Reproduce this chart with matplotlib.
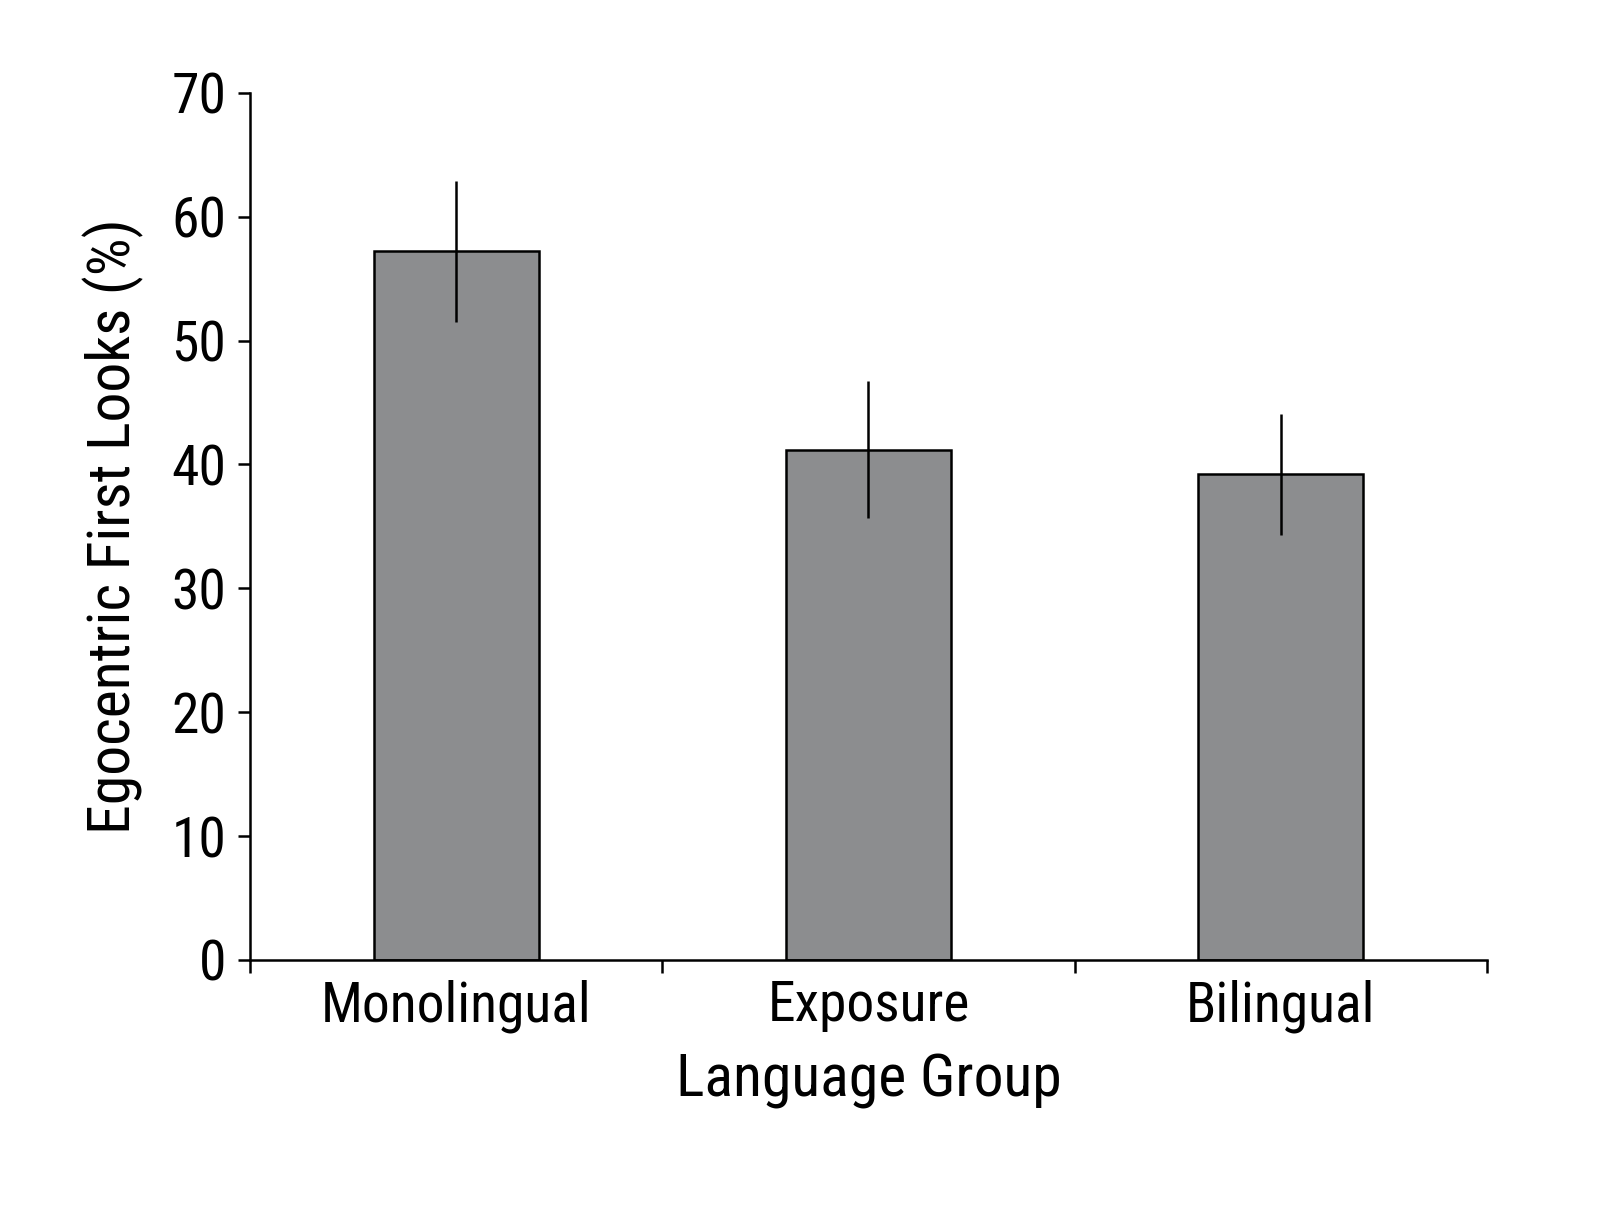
import numpy as np
import matplotlib.pyplot as plt

# data
groups = ['Monolingual', 'Exposure', 'Bilingual']
means = [57.2, 41.2, 39.2]
errors = [5.7, 5.5, 4.9]
yticks = [0, 10, 20, 30, 40, 50, 60, 70]

plt.rcParams['font.family'] = ['Roboto Condensed', 'DejaVu Sans']

fig = plt.figure(figsize=(16, 12.06), dpi=100)
ax = fig.add_axes([0.15625, 0.204, 0.7731, 0.7191])

x = np.arange(len(groups))
ax.bar(x, means, width=0.4, color='#8c8d8f', edgecolor='black', linewidth=1.8,
       zorder=2)
ax.errorbar(x, means, yerr=errors, fmt='none', ecolor='black', elinewidth=1.8,
            capsize=0, zorder=3)

ax.set_xlim(-0.5, 2.5)
ax.set_ylim(0, 70)
ax.set_yticks(yticks)
ax.set_xticks([-0.5, 0.5, 1.5, 2.5])
ax.set_xticklabels([])
ax.set_xticks(x, minor=True)
ax.set_xticklabels(groups, minor=True)
ax.tick_params(axis='x', which='minor', length=0, pad=14, labelsize=40)
ax.tick_params(axis='x', which='major', length=9, width=1.8, direction='out')
ax.tick_params(axis='y', length=9, width=1.8, direction='out', pad=8,
               labelsize=40)

for s in ['top', 'right']:
    ax.spines[s].set_visible(False)
for s in ['left', 'bottom']:
    ax.spines[s].set_linewidth(1.8)

ax.set_xlabel('Language Group', fontsize=43, labelpad=14)
ax.set_ylabel('Egocentric First Looks (%)', fontsize=43, labelpad=20)

fig.savefig('out.png', dpi=100)
